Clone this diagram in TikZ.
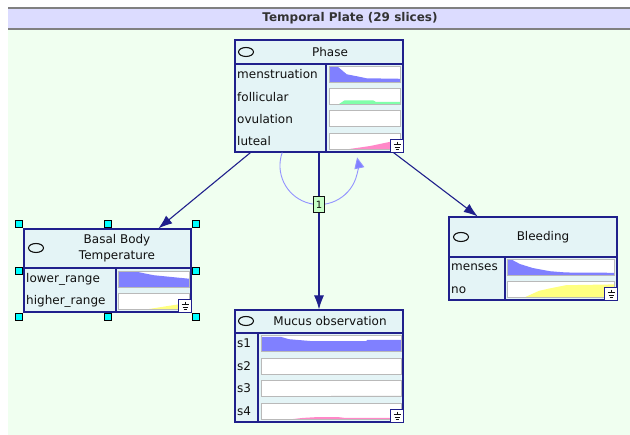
\documentclass[tikz,border=0pt]{standalone}
\usepackage{fontspec}
\setmainfont{DejaVu Sans}
\usetikzlibrary{arrows.meta,fit}

\definecolor{plate}{HTML}{F0FFF0}
\definecolor{platebar}{HTML}{DCDCFF}
\definecolor{navy}{HTML}{20208C}
\definecolor{nodefill}{HTML}{E4F4F6}
\definecolor{pblue}{HTML}{8080FF}
\definecolor{pgreen}{HTML}{80FFAA}
\definecolor{ppink}{HTML}{FF88C8}
\definecolor{pyellow}{HTML}{FFFF80}
\definecolor{selcyan}{HTML}{00FFFF}
\definecolor{txt}{HTML}{101010}

\tikzset{
	var/.style={draw=navy, fill=nodefill, line width=1.1pt, inner sep=0pt},
	link/.style={draw=navy, line width=1.1pt, -{Latex[length=14pt,width=10pt]}},
	lag/.style={draw=pblue!85, line width=0.9pt, -{Triangle[length=11pt,width=10pt,fill=pblue]}},
	lagbox/.style={draw=txt, fill=green!22, line width=0.8pt, inner sep=0pt,
		minimum width=11pt, minimum height=16pt, font=\fontsize{10}{12}\selectfont},
	barframe/.style={draw=gray!55, line width=1pt},
	statelbl/.style={anchor=west, inner sep=0pt},
	handle/.style={draw=black, fill=selcyan, line width=0.6pt, minimum size=7pt, inner sep=0pt},
	marker/.style={draw=txt, fill=nodefill, line width=1.1pt}
}

% one probability bar: bottom left corner, width, colour, upper edge of the area
\newcommand{\probbar}[4]{%
	\begin{scope}[shift={(#1)}, x=#2pt, y=16pt]
		\fill[white] (0,0) rectangle (1,1);
		\fill[#3] (0,0) -- #4 -- (1,0) -- cycle;
		\draw[barframe] (0,0) rectangle (1,1);
	\end{scope}}

% the small ground button in the bottom right corner of a node
\newcommand{\gndicon}[1]{%
	\begin{scope}[shift={(#1)}]
		\draw[navy, fill=white, line width=0.9pt] (0,0) rectangle (-13,-13);
		\draw[txt, line width=0.7pt] (-6.5,-11) -- (-6.5,-8.5)
			(-10,-8) -- (-3,-8) (-9,-5.5) -- (-4,-5.5) (-8,-3) -- (-5,-3);
	\end{scope}}

\begin{document}
\begin{tikzpicture}[x=1pt, y=-1pt, font=\fontsize{12}{15}\selectfont, text=txt]
\useasboundingbox (0,0) rectangle (630,435);
\fill[white] (0,0) rectangle (630,435);
\fill[plate] (8,29) rectangle (630,435);

% plate header
\fill[platebar] (8,8) rectangle (630,29);
\draw[gray, line width=1.5pt] (8,8) -- (630,8) (8,29) -- (630,29);
\node[font=\fontsize{12}{14}\bfseries, text=black!80] (plate) at (350,18.5) {Temporal Plate (29 slices)};

% Phase
\node[var, minimum width=168pt, minimum height=112pt] (phase) at (319,96) {};
\draw[navy, line width=1.1pt] (235,64) -- (403,64) (326,64) -- (326,152);
\draw[marker] (246,52) ellipse [x radius=7.5, y radius=4.5];
\node (phasename) at (330,52) {Phase};
\foreach \s [count=\i] in {menstruation,follicular,ovulation,luteal}
	\node[statelbl] (phase\i) at (237,52+22.3*\i) {\s};
\probbar{329,82.3}{71}{pblue}{(0,1) -- (0.13,0.95) -- (0.25,0.5) -- (0.4,0.37) -- (0.53,0.25) -- (1,0.22)}
\probbar{329,104.6}{71}{pgreen}{(0.13,0) -- (0.22,0.27) -- (0.62,0.27) -- (0.66,0.17) -- (1,0.17)}
\probbar{329,126.9}{71}{white}{(0,0)}
\probbar{329,149.2}{71}{ppink}{(0.27,0) -- (0.58,0.2) -- (0.85,0.45) -- (1,0.5)}
\gndicon{phase.south east}

% Basal Body Temperature
\node[var, minimum width=167pt, minimum height=83pt] (bbt) at (107.5,270.5) {};
\draw[navy, line width=1.1pt] (24,268) -- (191,268) (116,268) -- (116,312);
\draw[marker] (36,248) ellipse [x radius=7.5, y radius=4.5];
\node[align=center, font=\fontsize{12}{16}\selectfont] (bbtname) at (117,248.5) {Basal Body\\Temperature};
\node[statelbl] (bbt1) at (26,279.5) {lower\_range};
\node[statelbl] (bbt2) at (26,301.5) {higher\_range};
\probbar{118,288}{71}{pblue}{(0,1) -- (0.28,1) -- (0.5,0.8) -- (1,0.58)}
\probbar{118,310}{71}{pyellow}{(0.35,0) -- (0.7,0.25) -- (1,0.45)}
\gndicon{bbt.south east}

% selection handles
\node[fit=(bbt), inner sep=4pt] (bbtsel) {};
\foreach \a [count=\k] in {north west,north,north east,west,east,south west,south,south east}
	\node[handle] (handle\k) at (bbtsel.\a) {};

% Bleeding
\node[var, minimum width=168pt, minimum height=83pt] (bleed) at (533,258.5) {};
\draw[navy, line width=1.1pt] (449,257) -- (617,257) (505,257) -- (505,300);
\draw[marker] (461,237) ellipse [x radius=7.5, y radius=4.5];
\node (bleedname) at (543,237) {Bleeding};
\node[statelbl] (bleed1) at (451,267.5) {menses};
\node[statelbl] (bleed2) at (451,290) {no};
\probbar{507,276}{107}{pblue}{(0,1) -- (0.05,1) -- (0.12,0.75) -- (0.24,0.5) -- (0.4,0.3) -- (0.55,0.22) -- (1,0.2)}
\probbar{507,298}{107}{pyellow}{(0.15,0) -- (0.3,0.45) -- (0.4,0.6) -- (0.55,0.8) -- (1,0.85)}
\gndicon{bleed.south east}

% Mucus observation
\node[var, minimum width=168pt, minimum height=112pt] (mucus) at (319,366) {};
\draw[navy, line width=1.1pt] (235,333) -- (403,333) (258,333) -- (258,422);
\draw[marker] (246,321) ellipse [x radius=7.5, y radius=4.5];
\node (mucusname) at (330,321) {Mucus observation};
\foreach \i in {1,...,4}
	\node[statelbl] (mucus\i) at (237,321+22.5*\i) {s\i};
\probbar{261,352}{140}{pblue}{(0,0.95) -- (0.14,0.95) -- (0.2,0.8) -- (0.36,0.68) -- (0.75,0.68) -- (0.76,0.75) -- (1,0.75)}
\probbar{261,374.5}{140}{white}{(0,0)}
\probbar{261,397}{140}{gray!60}{(0.5,0) -- (0.5,0.07) -- (1,0.07)}
\probbar{261,419.5}{140}{ppink}{(0.2,0) -- (0.3,0.1) -- (0.4,0.15) -- (0.55,0.15) -- (0.6,0.1) -- (1,0.1)}
\gndicon{mucus.south east}

% arcs
\draw[link] (phase) -- (bbt);
\draw[link] (phase) -- (bleed);
\draw[link] (phase) -- (mucus);
\draw[lag] ([xshift=-36.8pt]phase.south) arc[start angle=199.5, end angle=-12, radius=39]
	node[lagbox, pos=0.518] (lag1) {1};
\end{tikzpicture}
\end{document}
